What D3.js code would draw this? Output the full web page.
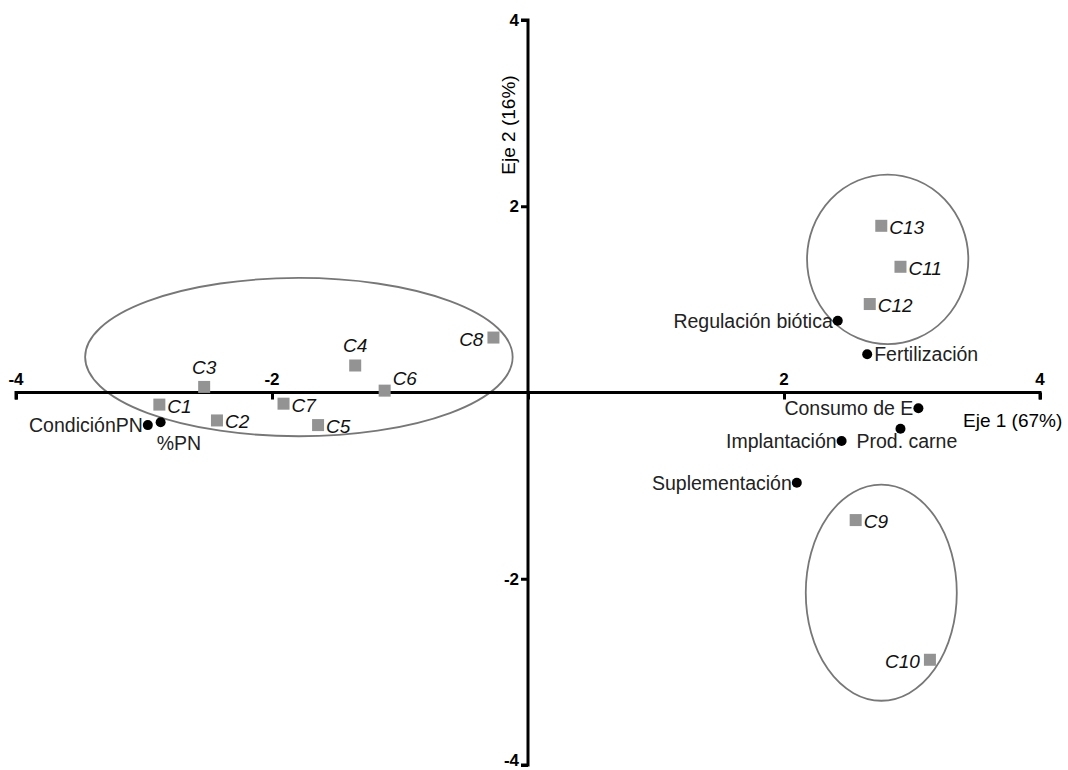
<html>
<head>
<script src="https://d3js.org/d3.v7.min.js"></script>
<style>body{margin:0;background:#fff}</style>
</head>
<body>
<svg width="1068" height="770"></svg>
<script>
var casos = ["C1","C2","C3","C4","C5","C6","C7","C8","C9","C10","C11","C12","C13"];
var casosX = [-2.88,-2.43,-2.53,-1.35,-1.64,-1.12,-1.91,-0.27,2.56,3.14,2.91,2.67,2.76];
var casosY = [-0.13,-0.30,0.06,0.29,-0.35,0.02,-0.12,0.59,-1.37,-2.87,1.35,0.95,1.79];
var variables = ["CondiciónPN","%PN","Regulación biótica","Fertilización","Consumo de E","Prod. carne","Implantación","Suplementación"];
var varX = [-2.97,-2.87,2.42,2.65,3.05,2.91,2.45,2.10];
var varY = [-0.35,-0.32,0.77,0.41,-0.17,-0.39,-0.52,-0.97];
// label placement: side relative to point
var varPos = ["left","below","left","right","left","belowleft","left","left"];
var ejeTicks = [-4,-2,2,4];
// ellipses: cx, cy, rx, ry in data units
var elipses = [[-1.79,0.38,1.67,0.85],[2.81,1.43,0.63,0.91],[2.76,-2.15,0.59,1.16]];

var svg = d3.select("svg");
var x = d3.scaleLinear().domain([-4,4]).range([16,1040]);
var y = d3.scaleLinear().domain([-4,4]).range([765,20]);
var fuente = "Liberation Sans, Arial";

svg.selectAll(".el").data(elipses).enter().append("ellipse")
  .attr("cx",function(d){return x(d[0]);})
  .attr("cy",function(d){return y(d[1]);})
  .attr("rx",function(d){return x(d[2])-x(0);})
  .attr("ry",function(d){return y(0)-y(d[3]);})
  .attr("fill","none").attr("stroke","#777").attr("stroke-width",1.8);

// axes
var xa = svg.append("g").attr("transform","translate(0,"+y(0)+")")
  .call(d3.axisBottom(x).tickValues(ejeTicks.concat([0])).tickSize(7).tickFormat(""));
var ya = svg.append("g").attr("transform","translate("+x(0)+",0)")
  .call(d3.axisLeft(y).tickValues(ejeTicks).tickSize(7).tickFormat(""));
[xa,ya].forEach(function(a){
  a.select(".domain").attr("stroke","#000").attr("stroke-width",3);
  a.selectAll(".tick line").attr("stroke","#000").attr("stroke-width",3);
});
xa.select(".domain").attr("d","M"+x(-4)+",7V0H"+x(4)+"V7");
ya.select(".domain").attr("d","M-7,"+y(4)+"H0V"+y(-4)+"H-7");

svg.selectAll(".xt").data(ejeTicks).enter().append("text")
  .attr("x",function(d){return x(d);}).attr("y",y(0)-8)
  .attr("text-anchor","middle").attr("font-family",fuente).attr("font-weight","bold")
  .attr("font-size",17).text(function(d){return d;});
svg.selectAll(".yt").data(ejeTicks).enter().append("text")
  .attr("x",x(0)-9).attr("y",function(d){return d==-4?y(d)+1:y(d)+6;})
  .attr("text-anchor","end").attr("font-family",fuente).attr("font-weight","bold")
  .attr("font-size",17).text(function(d){return d;});

svg.append("text").attr("x",963).attr("y",427).attr("font-family",fuente)
  .attr("font-size",19).text("Eje 1 (67%)");
svg.append("text").attr("transform","translate(515,125) rotate(-90)").attr("text-anchor","middle")
  .attr("font-family",fuente).attr("font-size",19).text("Eje 2 (16%)");

// cases
var gc = svg.selectAll(".c").data(casos).enter().append("g");
gc.append("rect")
  .attr("x",function(d,i){return x(casosX[i])-6;})
  .attr("y",function(d,i){return y(casosY[i])-6;})
  .attr("width",12).attr("height",12).attr("fill","#939393");
gc.append("text")
  .attr("x",function(d,i){
    if(d=="C3"||d=="C4") return x(casosX[i]);
    if(d=="C8"||d=="C10") return x(casosX[i])-10;
    return x(casosX[i])+8;})
  .attr("y",function(d,i){
    if(d=="C3"||d=="C4") return y(casosY[i])-13;
    if(d=="C6") return y(casosY[i])-6;
    return y(casosY[i])+8;})
  .attr("text-anchor",function(d){
    if(d=="C3"||d=="C4") return "middle";
    if(d=="C8"||d=="C10") return "end";
    return "start";})
  .attr("font-family",fuente).attr("font-style","italic")
  .attr("font-size",19).attr("fill","#111").text(function(d){return d;});

// variables
var gv = svg.selectAll(".v").data(variables).enter().append("g");
gv.append("circle")
  .attr("cx",function(d,i){return x(varX[i]);})
  .attr("cy",function(d,i){return y(varY[i]);})
  .attr("r",5).attr("fill","#000");
gv.append("text")
  .attr("x",function(d,i){
    var p=varPos[i];
    return p=="left"?x(varX[i])-5:p=="right"?x(varX[i])+7:p=="belowleft"?x(varX[i])-44:x(varX[i])-4;})
  .attr("y",function(d,i){
    var p=varPos[i];
    return p=="below"?y(varY[i])+28:p=="belowleft"?y(varY[i])+19:y(varY[i])+7;})
  .attr("text-anchor",function(d,i){return varPos[i]=="left"?"end":"start";})
  .attr("font-family",fuente).attr("font-size",19.5).attr("fill","#222")
  .text(function(d){return d;});
</script>
</body>
</html>
